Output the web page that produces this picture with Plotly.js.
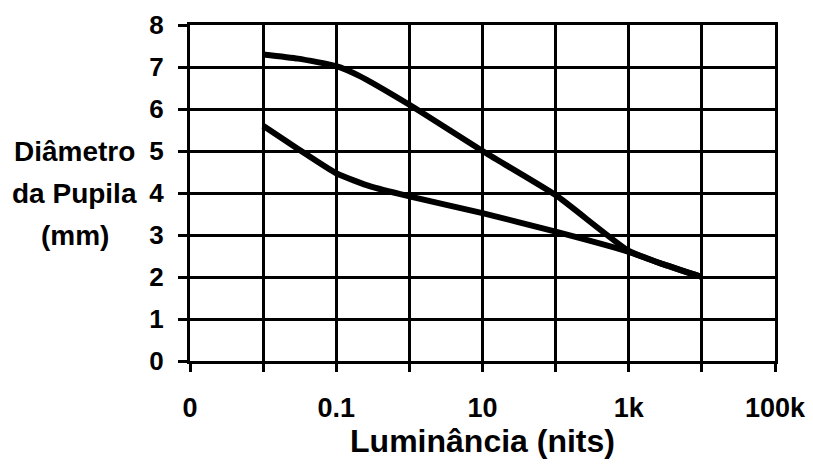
<!DOCTYPE html>
<html>
<head>
<meta charset="utf-8">
<script src="https://cdn.plot.ly/plotly-3.0.1.min.js"></script>
<style>html,body{margin:0;padding:0;background:#fff;}#chart{width:813px;height:470px;}</style>
</head>
<body>
<div id="chart"></div>
<script>
// Luminance (nits), log scale
const luminance = [0.01, 0.03, 0.1, 0.2, 1, 10, 100, 1000, 3000, 10000];
// Upper curve: pupil diameter (mm)
const upperDiameter = [7.3, 7.2, 7.02, 6.8, 6.1, 5.0, 3.95, 2.62, 2.3, 2.0];
const luminanceLower = [0.01, 0.03, 0.1, 0.3, 1, 10, 100, 1000, 3000, 10000];
// Lower curve: pupil diameter (mm)
const lowerDiameter = [5.6, 5.05, 4.47, 4.15, 3.92, 3.52, 3.08, 2.6, 2.3, 2.0];

const tickValues = [0.001, 0.01, 0.1, 1, 10, 100, 1000, 10000, 100000];
const tickLabels = ["0", "", "0.1", "", "10", "", "1k", "", "100k"];
const yTickValues = [0, 1, 2, 3, 4, 5, 6, 7, 8];
const yTitleLines = ["Diâmetro", "da Pupila", "(mm)"];
const yTitlePositions = [5, 4, 3];

const fontFam = "Liberation Sans, Arial, sans-serif";

const traces = [
  {x: luminance, y: upperDiameter, mode: "lines", line: {color: "#000", width: 6, shape: "spline", smoothing: 0.5}, hoverinfo: "skip"},
  {x: luminanceLower, y: lowerDiameter, mode: "lines", line: {color: "#000", width: 6, shape: "spline", smoothing: 0.5}, hoverinfo: "skip"}
];

const annotations = yTitleLines.map((t, i) => ({
  text: t, xref: "paper", yref: "paper", x: -0.197, y: yTitlePositions[i] / 8,
  xanchor: "center", yanchor: "middle", showarrow: false,
  font: {family: fontFam, size: 28, color: "#000", weight: "bold"}
}));

const layout = {
  width: 813, height: 470,
  margin: {l: 190, r: 38, t: 25, b: 109},
  paper_bgcolor: "#fff", plot_bgcolor: "#fff",
  showlegend: false,
  font: {family: fontFam, color: "#000"},
  xaxis: {
    type: "log", range: [-3, 5],
    tickmode: "array", tickvals: tickValues, ticktext: tickLabels,
    ticks: "outside", ticklen: 8, tickwidth: 3, tickcolor: "#000",
    showgrid: true, gridcolor: "#000", gridwidth: 3,
    showline: true, linecolor: "#000", linewidth: 3, mirror: true,
    zeroline: false,
    tickfont: {family: fontFam, size: 27, color: "#000", weight: "bold"},
    ticklabelstandoff: 13,
    title: {text: "Luminância (nits)", standoff: 2, font: {family: fontFam, size: 32, color: "#000", weight: "bold"}}
  },
  yaxis: {
    range: [0, 8], tickmode: "array", tickvals: yTickValues,
    ticks: "outside", ticklen: 9, tickwidth: 3, tickcolor: "#000",
    showgrid: true, gridcolor: "#000", gridwidth: 3,
    showline: true, linecolor: "#000", linewidth: 3, mirror: true,
    zeroline: false,
    tickfont: {family: fontFam, size: 26, color: "#000", weight: "bold"},
    ticklabelstandoff: 9
  },
  annotations: annotations
};

Plotly.newPlot("chart", traces, layout, {displayModeBar: false, staticPlot: true});
</script>
</body>
</html>
